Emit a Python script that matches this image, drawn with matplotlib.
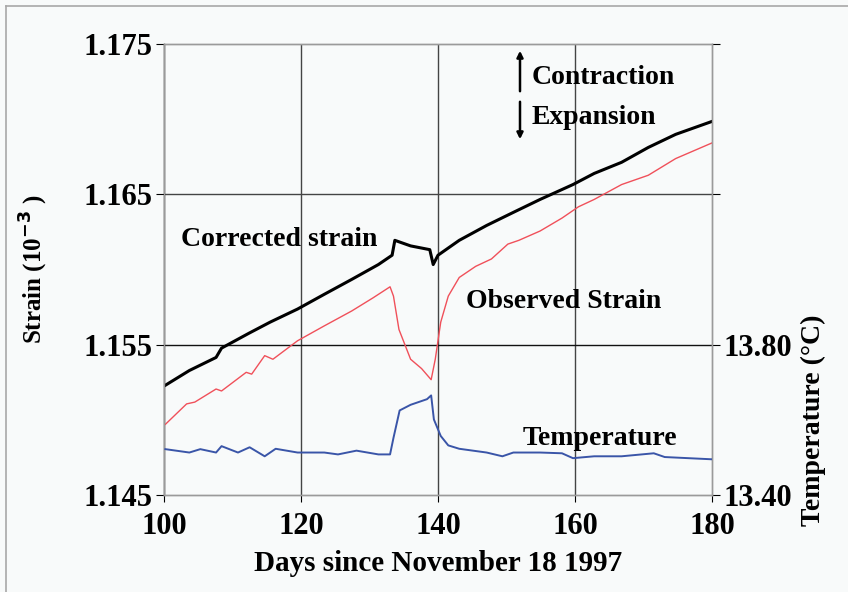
import matplotlib
matplotlib.use("Agg")
import matplotlib.pyplot as plt
from matplotlib.lines import Line2D

# ---- data ----
obs_days = [100.2, 103.3, 104.5, 107.6, 108.4, 112.0, 112.8, 114.7, 115.9, 119.5,
            123.4, 127.4, 130.5, 133.0, 133.5, 134.3, 136.0, 137.6, 139.0, 139.6,
            140.4, 141.5, 143.1, 145.5, 147.8, 150.2, 151.8, 154.9, 158.1, 160.5,
            162.8, 166.8, 170.7, 174.7, 180.0]
obs_strain = [1.14970, 1.15106, 1.15118, 1.15205, 1.15192, 1.15316, 1.15304, 1.15427,
              1.15403, 1.15526, 1.15625, 1.15724, 1.15811, 1.15885, 1.15823, 1.15601,
              1.15403, 1.15341, 1.15267, 1.15403, 1.15650, 1.15823, 1.15947, 1.16021,
              1.16070, 1.16169, 1.16194, 1.16256, 1.16342, 1.16417, 1.16466, 1.16565,
              1.16627, 1.16738, 1.16842]

cor_days = [100.2, 103.7, 107.6, 108.4, 112.4, 115.5, 119.5, 123.4, 127.4, 131.3,
            133.3, 133.7, 136.0, 138.8, 139.3, 140.0, 143.1, 147.1, 151.0, 154.9,
            159.7, 162.8, 166.8, 170.7, 174.7, 180.0]
cor_strain = [1.15230, 1.15328, 1.15415, 1.15477, 1.15576, 1.15650, 1.15737, 1.15835,
              1.15934, 1.16033, 1.16095, 1.16194, 1.16157, 1.16132, 1.16033, 1.16095,
              1.16194, 1.16293, 1.16380, 1.16466, 1.16565, 1.16639, 1.16713, 1.16812,
              1.16899, 1.16985]

temp_days = [100.2, 103.7, 105.3, 107.6, 108.4, 110.8, 112.5, 114.7, 116.3, 119.5,
             123.4, 125.4, 128.1, 131.3, 133.0, 133.5, 134.4, 136.0, 138.4, 139.0,
             139.4, 140.4, 141.5, 143.1, 147.1, 149.4, 151.0, 154.9, 158.1, 159.7,
             162.8, 166.8, 171.5, 173.1, 180.0]
temp_c = [13.522, 13.513, 13.522, 13.513, 13.530, 13.513, 13.527, 13.503, 13.523, 13.513,
          13.513, 13.508, 13.518, 13.508, 13.508, 13.552, 13.625, 13.640, 13.655, 13.665,
          13.601, 13.557, 13.532, 13.523, 13.513, 13.503, 13.513, 13.513, 13.511, 13.498,
          13.503, 13.503, 13.511, 13.501, 13.495]

x_ticks = [100, 120, 140, 160, 180]
strain_ticks = [1.145, 1.155, 1.165, 1.175]
strain_labels = ["1.145", "1.155", "1.165", "1.175"]
temp_ticks = [13.40, 13.80, 14.20, 14.60]
temp_labels = ["13.40", "13.80", "", ""]

# ---- style ----
BG = "#f8fafa"
FONT = "Liberation Serif"
plt.rcParams['font.family'] = [FONT, 'DejaVu Serif']
plt.rcParams['font.weight'] = 'bold'
plt.rcParams['mathtext.default'] = 'bf'

W, H = 848, 592
fig = plt.figure(figsize=(W / 100, H / 100), dpi=100, facecolor=BG)
ax = fig.add_axes([164 / W, 1 - 495 / H, (712 - 164) / W, (495 - 44) / H])
ax.set_facecolor(BG)

# figure frame lines
fig.add_artist(Line2D([6 / W, 6 / W], [0, 1 - 6 / H], transform=fig.transFigure,
                      color="#a8a8a8", lw=1.2))
fig.add_artist(Line2D([6 / W, 1], [1 - 6 / H, 1 - 6 / H], transform=fig.transFigure,
                      color="#a8a8a8", lw=1.2))

ax.set_xlim(100, 180)
ax.set_ylim(1.145, 1.175)
ax.set_xticks(x_ticks)
ax.set_yticks(strain_ticks)
ax.set_yticklabels(strain_labels)

# grid
for d in [120, 140, 160]:
    ax.axvline(d, color="#444444", lw=1.0, zorder=1)
ax.axhline(1.155, color="#111111", lw=1.0, zorder=1)
ax.axhline(1.165, color="#444444", lw=1.0, zorder=1)

ax.plot(obs_days, obs_strain, color="#f0505a", lw=1.0, zorder=3)
ax.plot(cor_days, cor_strain, color="#000000", lw=2.2, zorder=4)

ax2 = ax.twinx()
ax2.set_ylim(13.40, 14.60)
ax2.set_yticks(temp_ticks)
ax2.set_yticklabels(temp_labels)
ax2.plot(temp_days, temp_c, color="#3a55a8", lw=1.4, zorder=3)

for a in (ax, ax2):
    for s in a.spines.values():
        s.set_color("#9a9a9a")
        s.set_linewidth(1.0)
ax.spines['left'].set_color("#000000")

ax.tick_params(axis='y', direction='out', length=6, width=0.8, pad=2,
               labelsize=22, colors="#000000")
ax.tick_params(axis='x', direction='out', length=5, width=0.8, pad=7,
               labelsize=22, colors="#000000")
ax2.tick_params(axis='y', direction='out', length=6, width=0.8, pad=2,
                labelsize=22, colors="#000000")
for lab in ax.get_xticklabels() + ax.get_yticklabels() + ax2.get_yticklabels():
    lab.set_fontweight('bold')

ax.set_xlabel("Days since November 18 1997", fontsize=21, fontweight='bold', labelpad=7)
fig.text(34 / W, 1 - 269 / H, "Strain (10$^{-3}$ )", rotation=90, fontsize=18,
         fontweight='bold', ha='center', va='center')
fig.text(813 / W, 1 - 420 / H, "Temperature (°C)", rotation=90, fontsize=20,
         fontweight='bold', ha='center', va='center')

# annotations
FS = 20
ax.text((181 - 164) / 548, 1 - (240 - 44) / 451, "Corrected strain", transform=ax.transAxes,
        fontsize=FS, fontweight='bold', ha='left', va='center')
ax.text((466 - 164) / 548, 1 - (302 - 44) / 451, "Observed Strain", transform=ax.transAxes,
        fontsize=FS, fontweight='bold', ha='left', va='center')
ax.text((523 - 164) / 548, 1 - (438 - 44) / 451, "Temperature", transform=ax.transAxes,
        fontsize=FS, fontweight='bold', ha='left', va='center')
ax.text((532 - 164) / 548, 1 - (77 - 44) / 451, "Contraction", transform=ax.transAxes,
        fontsize=FS, fontweight='bold', ha='left', va='center')
ax.text((532 - 164) / 548, 1 - (118 - 44) / 451, "Expansion", transform=ax.transAxes,
        fontsize=FS, fontweight='bold', ha='left', va='center')

ax_x = (520 - 164) / 548
ax.annotate("", xy=(ax_x, 1 - (48 - 44) / 451), xytext=(ax_x, 1 - (94 - 44) / 451),
            xycoords='axes fraction',
            arrowprops=dict(arrowstyle='-|>', color='black', lw=1.8, mutation_scale=9))
ax.annotate("", xy=(ax_x, 1 - (142 - 44) / 451), xytext=(ax_x, 1 - (99 - 44) / 451),
            xycoords='axes fraction',
            arrowprops=dict(arrowstyle='-|>', color='black', lw=1.8, mutation_scale=9))

fig.savefig("out.png", dpi=100, facecolor=BG)
